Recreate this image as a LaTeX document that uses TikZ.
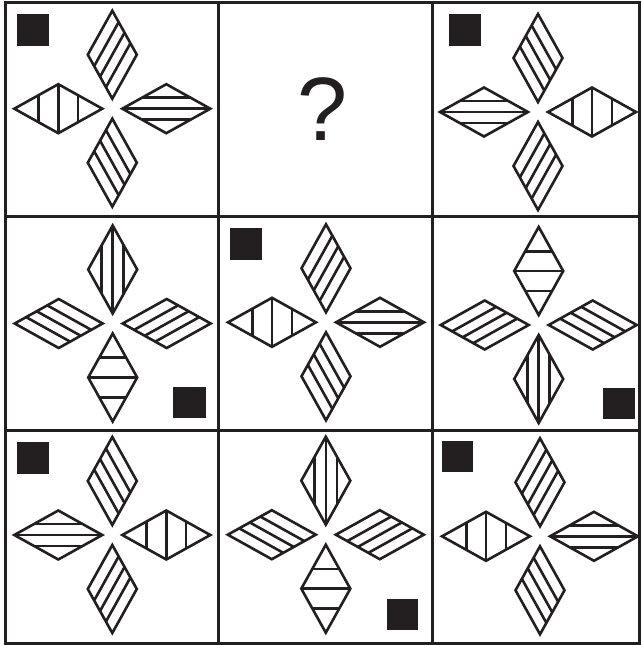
\documentclass[tikz,border=0pt]{standalone}
\usepackage{fontspec}
\setmainfont{Liberation Sans}
\definecolor{ink}{HTML}{231F20}
\tikzset{
  fig/.style={draw=ink,line width=2.6pt,line join=miter,line cap=butt},
  gridline/.style={draw=ink,line width=3pt},
  marker/.style={fill=ink,draw=none}
}
% diamond outline: cx cy a b
\newcommand{\dia}[4]{\draw[fig] ({#1},{#2-#4}) -- ({#1+#3},{#2}) -- ({#1},{#2+#4}) -- ({#1-#3},{#2}) -- cycle;}
% vertical hatch lines
\newcommand{\hv}[4]{\foreach \kk in {-1,0,1}{\draw[fig] ({#1+(\kk)*0.45*#3},{#2-(1-0.45*abs(\kk))*#4}) -- ({#1+(\kk)*0.45*#3},{#2+(1-0.45*abs(\kk))*#4});}}
% horizontal hatch lines
\newcommand{\hh}[4]{\foreach \kk in {-1,0,1}{\draw[fig] ({#1-(1-0.45*abs(\kk))*#3},{#2+(\kk)*0.45*#4}) -- ({#1+(1-0.45*abs(\kk))*#3},{#2+(\kk)*0.45*#4});}}
% slash hatch (parallel to left-top edge)
\newcommand{\hs}[4]{\foreach \tq in {0.26,0.5,0.74}{\draw[fig] ({#1-#3+\tq*#3},{#2+\tq*#4}) -- ({#1+\tq*#3},{#2-#4+\tq*#4});}}
% backslash hatch (parallel to top-right edge)
\newcommand{\hb}[4]{\foreach \tq in {0.26,0.5,0.74}{\draw[fig] ({#1-#3+\tq*#3},{#2-\tq*#4}) -- ({#1+\tq*#3},{#2+#4-\tq*#4});}}
% cell patterns
\newcommand{\patA}[2]{%
  \dia{#1}{#2-54}{24.5}{44}\hs{#1}{#2-54}{24.5}{44}%
  \dia{#1}{#2+54}{24.5}{44}\hb{#1}{#2+54}{24.5}{44}%
  \dia{#1-54}{#2}{44}{24.5}\hv{#1-54}{#2}{44}{24.5}%
  \dia{#1+54}{#2}{44}{24.5}\hh{#1+54}{#2}{44}{24.5}}
\newcommand{\patB}[2]{%
  \dia{#1}{#2-54}{24.5}{44}\hb{#1}{#2-54}{24.5}{44}%
  \dia{#1}{#2+54}{24.5}{44}\hs{#1}{#2+54}{24.5}{44}%
  \dia{#1-54}{#2}{44}{24.5}\hh{#1-54}{#2}{44}{24.5}%
  \dia{#1+54}{#2}{44}{24.5}\hv{#1+54}{#2}{44}{24.5}}
\newcommand{\patC}[2]{%
  \dia{#1}{#2-54}{24.5}{44}\hv{#1}{#2-54}{24.5}{44}%
  \dia{#1}{#2+54}{24.5}{44}\hh{#1}{#2+54}{24.5}{44}%
  \dia{#1-54}{#2}{44}{24.5}\hb{#1-54}{#2}{44}{24.5}%
  \dia{#1+54}{#2}{44}{24.5}\hs{#1+54}{#2}{44}{24.5}}
\newcommand{\patD}[2]{%
  \dia{#1}{#2-54}{24.5}{44}\hh{#1}{#2-54}{24.5}{44}%
  \dia{#1}{#2+54}{24.5}{44}\hv{#1}{#2+54}{24.5}{44}%
  \dia{#1-54}{#2}{44}{24.5}\hs{#1-54}{#2}{44}{24.5}%
  \dia{#1+54}{#2}{44}{24.5}\hb{#1+54}{#2}{44}{24.5}}
\begin{document}
\begin{tikzpicture}[x=1pt,y=-1pt]
\useasboundingbox (0,0) rectangle (641,645);
\fill[white] (0,0) rectangle (641,645);
% grid
\draw[gridline] (5,2) rectangle (639.5,643);
\draw[gridline] (218.5,2) -- (218.5,643);
\draw[gridline] (432.5,2) -- (432.5,643);
\draw[gridline] (5,216.5) -- (639.5,216.5);
\draw[gridline] (5,430.5) -- (639.5,430.5);
% black squares
\fill[marker] (17.3,14) rectangle (49.3,45.7);
\fill[marker] (448.5,14) rectangle (480.7,45.7);
\fill[marker] (173.3,386.7) rectangle (205.7,418.3);
\fill[marker] (230,228.3) rectangle (262.3,260);
\fill[marker] (603.3,387.7) rectangle (635.3,419.3);
\fill[marker] (17.3,442) rectangle (49.3,473.7);
\fill[marker] (386.7,598.7) rectangle (418.3,630.3);
\fill[marker] (441.7,440.7) rectangle (473.3,472.3);
% figures
\patA{112.3}{108.7}
\patB{538}{112}
\patC{112.7}{323.5}
\patA{326}{322.3}
\patD{538.7}{325}
\patB{112.3}{535}
\patC{325.8}{534.7}
\patA{540}{536.3}
% question mark
\node[anchor=south,inner sep=0pt,text=ink,font=\fontsize{90}{90}\selectfont] (q) at (323,141) {?};
\end{tikzpicture}
\end{document}
